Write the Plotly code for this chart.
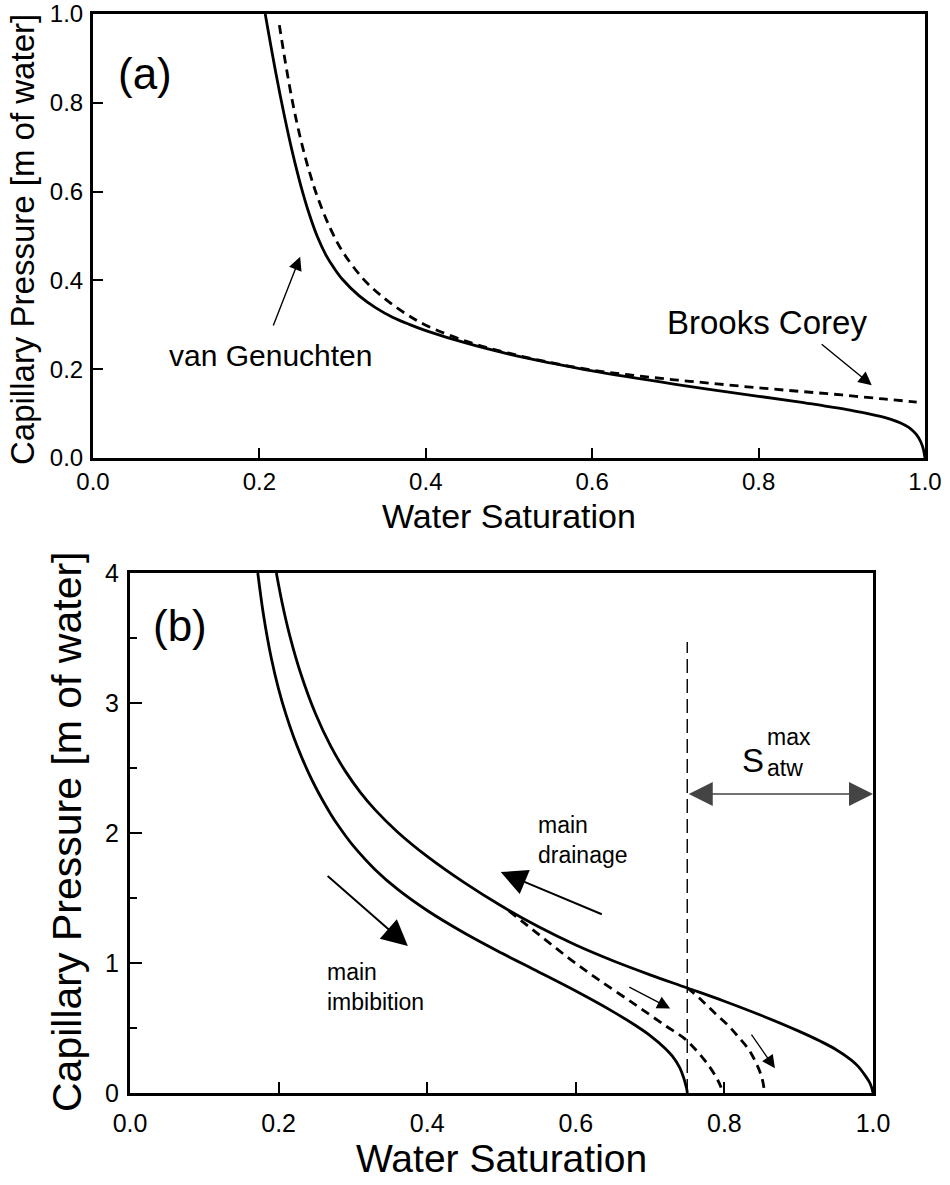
import plotly.graph_objects as go

# ---------------- data: panel (a) ----------------
vg_sw = [0.207, 0.220, 0.230, 0.240, 0.250, 0.260, 0.270, 0.280, 0.290, 0.300, 0.320, 0.340,
         0.360, 0.380, 0.400, 0.450, 0.500, 0.550, 0.600, 0.700, 0.800, 0.850, 0.880, 0.910,
         0.930, 0.950, 0.960, 0.970, 0.980, 0.985, 0.990, 0.995, 0.998, 1.000]
vg_pc = [1.000, 0.865, 0.771, 0.686, 0.612, 0.549, 0.497, 0.457, 0.427, 0.402, 0.365, 0.338,
         0.317, 0.301, 0.287, 0.258, 0.234, 0.214, 0.196, 0.166, 0.139, 0.126, 0.117, 0.108,
         0.1005, 0.092, 0.0865, 0.0795, 0.0695, 0.062, 0.052, 0.036, 0.020, 0.000]

bc_sw = [0.224, 0.230, 0.240, 0.250, 0.260, 0.270, 0.285, 0.300, 0.325, 0.350, 0.375, 0.400,
         0.450, 0.500, 0.550, 0.600, 0.650, 0.700, 0.750, 0.800, 0.850, 0.900, 0.950, 0.990]
bc_pc = [0.975, 0.905, 0.800, 0.715, 0.645, 0.587, 0.518, 0.465, 0.403, 0.360, 0.326, 0.299,
         0.262, 0.236, 0.215, 0.198, 0.186, 0.176, 0.167, 0.158, 0.150, 0.142, 0.133, 0.126]

# ---------------- data: panel (b) ----------------
imb_sw = [0.172, 0.180, 0.190, 0.200, 0.210, 0.220, 0.230, 0.240, 0.250, 0.260, 0.270, 0.280,
          0.290, 0.300, 0.330, 0.360, 0.400, 0.450, 0.500, 0.550, 0.600, 0.650, 0.680, 0.700,
          0.720, 0.730, 0.740, 0.745, 0.748, 0.7495, 0.750]
imb_pc = [4.000, 3.665, 3.350, 3.107, 2.910, 2.743, 2.597, 2.467, 2.350, 2.244, 2.147, 2.059,
          1.979, 1.905, 1.718, 1.568, 1.404, 1.231, 1.077, 0.931, 0.784, 0.626, 0.521, 0.442,
          0.345, 0.283, 0.193, 0.120, 0.060, 0.025, 0.000]

dr_sw = [0.197, 0.205, 0.215, 0.230, 0.250, 0.270, 0.290, 0.310, 0.330, 0.360, 0.400, 0.450,
         0.500, 0.550, 0.600, 0.650, 0.700, 0.750, 0.800, 0.850, 0.900, 0.930, 0.950, 0.970,
         0.980, 0.990, 0.995, 0.998, 1.000]
dr_pc = [4.000, 3.764, 3.519, 3.223, 2.913, 2.670, 2.474, 2.313, 2.178, 2.008, 1.820, 1.618,
         1.438, 1.278, 1.138, 1.017, 0.909, 0.808, 0.706, 0.596, 0.476, 0.396, 0.335, 0.257,
         0.205, 0.130, 0.085, 0.045, 0.000]

scan1_sw = [0.510, 0.550, 0.590, 0.631, 0.680, 0.720, 0.746, 0.765, 0.779, 0.789, 0.795, 0.797]
scan1_pc = [1.40, 1.22, 1.04, 0.87, 0.68, 0.52, 0.42, 0.31, 0.21, 0.12, 0.05, 0.00]

scan2_sw = [0.750, 0.770, 0.788, 0.805, 0.819, 0.832, 0.841, 0.848, 0.852, 0.854]
scan2_pc = [0.81, 0.71, 0.61, 0.52, 0.43, 0.34, 0.25, 0.16, 0.08, 0.00]

satw_line_sw = [0.75, 0.75]
satw_line_pc = [0.0, 3.47]

# arrows: (tip_x, tip_y, tail_x, tail_y)
arrow_vg = (0.249, 0.453, 0.216, 0.295)
arrow_bc = (0.936, 0.164, 0.874, 0.259)
arrow_drain = (0.499, 1.70, 0.637, 1.37)
arrow_imb = (0.374, 1.13, 0.264, 1.68)
arrow_scan1 = (0.727, 0.65, 0.670, 0.82)
arrow_scan2 = (0.868, 0.19, 0.835, 0.46)
arrow_satw = (1.0, 2.30, 0.75, 2.30)

x_ticks = [0.0, 0.2, 0.4, 0.6, 0.8, 1.0]
ya_ticks = [0.0, 0.2, 0.4, 0.6, 0.8, 1.0]
yb_ticks = [0, 1, 2, 3, 4]

W, H = 950, 1185
FONT = "Arial, Liberation Sans, Helvetica, sans-serif"


def pxx(v):
    return v / W


def pyy(v):
    return 1 - v / H


fig = go.Figure()

solid = dict(color="black", width=2.8, shape="spline", smoothing=1.0)
dashed = dict(color="black", width=2.8, dash="9px,6px", shape="spline", smoothing=1.0)

# panel (a)
fig.add_trace(go.Scatter(x=vg_sw, y=vg_pc, mode="lines", xaxis="x", yaxis="y",
                         line=solid, showlegend=False))
fig.add_trace(go.Scatter(x=bc_sw, y=bc_pc, mode="lines", xaxis="x", yaxis="y",
                         line=dashed, showlegend=False))

# panel (b)
fig.add_trace(go.Scatter(x=imb_sw, y=imb_pc, mode="lines", xaxis="x2", yaxis="y2",
                         line=solid, showlegend=False))
fig.add_trace(go.Scatter(x=dr_sw, y=dr_pc, mode="lines", xaxis="x2", yaxis="y2",
                         line=solid, showlegend=False))
fig.add_trace(go.Scatter(x=scan1_sw, y=scan1_pc, mode="lines", xaxis="x2", yaxis="y2",
                         line=dashed, showlegend=False))
fig.add_trace(go.Scatter(x=scan2_sw, y=scan2_pc, mode="lines", xaxis="x2", yaxis="y2",
                         line=dashed, showlegend=False))
fig.add_trace(go.Scatter(x=satw_line_sw, y=satw_line_pc, mode="lines", xaxis="x2", yaxis="y2",
                         line=dict(color="black", width=1.4, dash="14px,6px"), showlegend=False))

axis_common = dict(showline=True, linewidth=3, linecolor="black", mirror=True,
                   ticks="inside", tickcolor="black", tickwidth=1.5, automargin=False,
                   showgrid=False, zeroline=False, fixedrange=True)

fig.update_layout(
    width=W, height=H,
    margin=dict(l=0, r=0, t=0, b=0),
    paper_bgcolor="white", plot_bgcolor="white",
    font=dict(family=FONT, color="black"),
    xaxis=dict(domain=[pxx(93), pxx(925)], anchor="y", range=[0, 1],
               tickvals=x_ticks, ticktext=[f"{v:.1f}" for v in x_ticks], ticklen=10,
               tickfont=dict(size=24), ticklabelstandoff=0, **axis_common),
    yaxis=dict(domain=[pyy(458), pyy(14)], anchor="x", range=[0, 1],
               tickvals=ya_ticks, ticktext=[f"{v:.1f}" for v in ya_ticks], ticklen=10,
               tickfont=dict(size=24), ticklabelstandoff=2, **axis_common),
    xaxis2=dict(domain=[pxx(130), pxx(873)], anchor="y2", range=[0, 1],
                tickvals=x_ticks, ticktext=[f"{v:.1f}" for v in x_ticks], ticklen=11,
                tickfont=dict(size=25), ticklabelstandoff=6, **axis_common),
    yaxis2=dict(domain=[pyy(1093), pyy(573)], anchor="x2", range=[0, 4],
                tickvals=yb_ticks, ticktext=[str(v) for v in yb_ticks], ticklen=12,
                tickfont=dict(size=25), ticklabelstandoff=3,
                minor=dict(dtick=0.5, ticks="inside", ticklen=7, tickwidth=1.5, tickcolor="black"),
                **axis_common),
)

ann = []


def arrow(a, xr, yr, width, size, head=2, color="black", side="end"):
    tx, ty, sx, sy = a
    return dict(x=tx, y=ty, ax=sx, ay=sy, xref=xr, yref=yr, axref=xr, ayref=yr,
                text="", showarrow=True, arrowhead=head, startarrowhead=head,
                arrowsize=size, startarrowsize=size, arrowwidth=width,
                arrowcolor=color, arrowside=side)


ann.append(arrow(arrow_vg, "x", "y", 1.4, 1.9))
ann.append(arrow(arrow_bc, "x", "y", 1.4, 1.9))
ann.append(arrow(arrow_drain, "x2", "y2", 2.0, 2.6))
ann.append(arrow(arrow_imb, "x2", "y2", 2.0, 2.6))
ann.append(arrow(arrow_scan1, "x2", "y2", 1.3, 2.0))
ann.append(arrow(arrow_scan2, "x2", "y2", 1.3, 2.0))
ann.append(arrow(arrow_satw, "x2", "y2", 1.6, 3.0, color="#444444", side="end+start"))


def text(t, x, y, xr, yr, size, xanchor="center", yanchor="middle", angle=0, align="left"):
    return dict(text=t, x=x, y=y, xref=xr, yref=yr, showarrow=False, xanchor=xanchor,
                yanchor=yanchor, textangle=angle, align=align,
                font=dict(size=size, family=FONT, color="black"))


# panel labels and in-plot text
ann.append(text("(a)", 0.0625, 0.867, "x", "y", 44))
ann.append(text("van Genuchten", 0.089, 0.230, "x", "y", 30, xanchor="left"))
ann.append(text("Brooks Corey", 0.6875, 0.306, "x", "y", 33, xanchor="left"))
ann.append(text("(b)", 0.067, 3.60, "x2", "y2", 44))
ann.append(text("main<br>drainage", 0.546, 1.95, "x2", "y2", 23, xanchor="left"))
ann.append(text("main<br>imbibition", 0.262, 0.815, "x2", "y2", 23, xanchor="left"))
ann.append(text("S", 0.838, 2.56, "x2", "y2", 33))
ann.append(text("max", 0.855, 2.74, "x2", "y2", 23, xanchor="left"))
ann.append(text("atw", 0.855, 2.50, "x2", "y2", 23, xanchor="left"))

# axis titles
ann.append(text("Capillary Pressure [m of water]", pxx(23), pyy(240), "paper", "paper", 33, angle=-90))
ann.append(text("Water Saturation", pxx(509), pyy(516), "paper", "paper", 34))
ann.append(text("Capillary Pressure [m of water]", pxx(67), pyy(832), "paper", "paper", 41, angle=-90))
ann.append(text("Water Saturation", pxx(502), pyy(1158), "paper", "paper", 39))

fig.update_layout(annotations=ann)

fig.write_html("out.html")
